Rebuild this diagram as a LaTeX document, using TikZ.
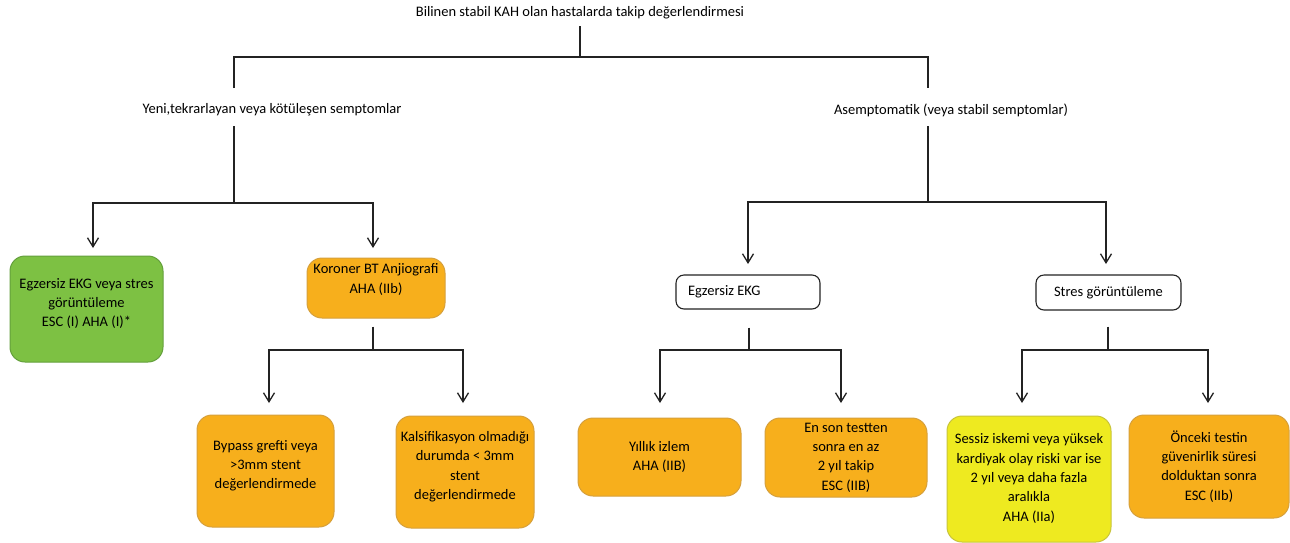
\documentclass[tikz,border=0pt]{standalone}
\usepackage{fontspec}
\setmainfont{Carlito}
\usetikzlibrary{arrows.meta}
\definecolor{orangebox}{RGB}{247,175,28}
\definecolor{orangeedge}{RGB}{214,160,60}
\definecolor{greenbox}{RGB}{125,193,67}
\definecolor{greenedge}{RGB}{100,160,60}
\definecolor{yellowbox}{RGB}{238,234,32}
\definecolor{yellowedge}{RGB}{200,196,60}
\definecolor{lncol}{RGB}{35,35,35}
\begin{document}
\begin{tikzpicture}[x=1pt,y=-1pt,
  every node/.style={font=\fontsize{14.5}{19.3}\selectfont, text=black},
  ln/.style={draw=lncol, line width=1.4pt},
  arr/.style={ln, -{Straight Barb[length=9pt,width=11pt,line width=1.3pt]}},
  hd/.style={inner sep=2pt},
  cbox/.style={rounded corners=15pt, align=center, inner sep=2pt, line width=1pt},
  obox/.style={cbox, fill=orangebox, draw=orangeedge},
  gbox/.style={cbox, fill=greenbox, draw=greenedge},
  ybox/.style={cbox, fill=yellowbox, draw=yellowedge},
  wbox/.style={rounded corners=8pt, draw=lncol, line width=1.1pt, fill=white, inner sep=2pt}
]
\useasboundingbox (0,0) rectangle (1290,542);
\fill[white] (0,0) rectangle (1290,542);

% headings
\node[hd] (title) at (580,13) {Bilinen stabil KAH olan hastalarda takip değerlendirmesi};
\node[hd] (yeni) at (272,110) {Yeni,tekrarlayan veya kötüleşen semptomlar};
\node[hd] (asem) at (951,110) {Asemptomatik (veya stabil semptomlar)};

% boxes
\node[gbox, minimum width=153pt, minimum height=106pt, text depth=13pt] (green) at (86.5,309)
  {Egzersiz EKG veya stres\\görüntüleme\\ESC (I) AHA (I)*};
\node[obox, minimum width=138pt, minimum height=60pt, text depth=19pt] (koroner) at (376,288)
  {Koroner BT Anjiografi\\AHA (IIb)};
\node[obox, minimum width=137pt, minimum height=112pt, text depth=13pt] (bypass) at (265.5,471)
  {Bypass grefti veya\\>3mm stent\\değerlendirmede};
\node[obox, minimum width=138pt, minimum height=112pt, text depth=13pt] (kalsif) at (465,472)
  {Kalsifikasyon olmadığı\\durumda < 3mm\\stent\\değerlendirmede};
\node[wbox, minimum width=144pt, minimum height=34pt] (egz) at (748,292)
  {\makebox[120pt][l]{Egzersiz EKG}};
\node[wbox, minimum width=145pt, minimum height=35pt, align=center] (stres) at (1108.5,292.5)
  {Stres görüntüleme};
\node[obox, minimum width=163pt, minimum height=78pt] (yillik) at (659.5,457)
  {Yıllık izlem\\AHA (IIB)};
\node[obox, minimum width=162pt, minimum height=79pt] (enson) at (846,457.5)
  {En son testten\\sonra en az\\2 yıl takip\\ESC (IIB)};
\node[ybox, minimum width=164pt, minimum height=126pt, text depth=3pt] (sessiz) at (1029,479)
  {Sessiz iskemi veya yüksek\\kardiyak olay riski var ise\\2 yıl veya daha fazla\\aralıkla\\AHA (IIa)};
\node[obox, minimum width=160pt, minimum height=103pt] (onceki) at (1209,466.5)
  {Önceki testin\\güvenirlik süresi\\dolduktan sonra\\ESC (IIb)};

% junction coordinates
\coordinate (j0) at (580,57);
\coordinate (a1) at (234,88);
\coordinate (a2) at (928,88);
\coordinate (b1) at (234,126);
\coordinate (j1) at (234,203);
\coordinate (t1) at (93,248);
\coordinate (t2) at (373,248);
\coordinate (b2) at (928,126);
\coordinate (j2) at (928,202);
\coordinate (t3) at (748,264);
\coordinate (t4) at (1106,264);
\coordinate (j3) at (373,350);
\coordinate (t5) at (269,403);
\coordinate (t6) at (463,403);
\coordinate (j4) at (749,350);
\coordinate (t7) at (660,403);
\coordinate (t8) at (841,403);
\coordinate (j5) at (1108,350);
\coordinate (t9) at (1022,403);
\coordinate (t10) at (1208,403);

% connectors
\draw[ln] ([yshift=-5pt]title.south) -- (j0);
\draw[ln] (a1) |- (j0) -| (a2);
\draw[ln] (b1) -- (j1);
\draw[arr] (j1) -| (t1);
\draw[arr] (j1) -| (t2);
\draw[ln] (b2) -- (j2);
\draw[arr] (j2) -| (t3);
\draw[arr] (j2) -| (t4);
\draw[ln] (koroner.south -| j3) ++(0,8) -- (j3);
\draw[arr] (j3) -| (t5);
\draw[arr] (j3) -| (t6);
\draw[ln] (egz.south -| j4) ++(0,18) -- (j4);
\draw[arr] (j4) -| (t7);
\draw[arr] (j4) -| (t8);
\draw[ln] (stres.south -| j5) ++(0,16) -- (j5);
\draw[arr] (j5) -| (t9);
\draw[arr] (j5) -| (t10);
\end{tikzpicture}
\end{document}
